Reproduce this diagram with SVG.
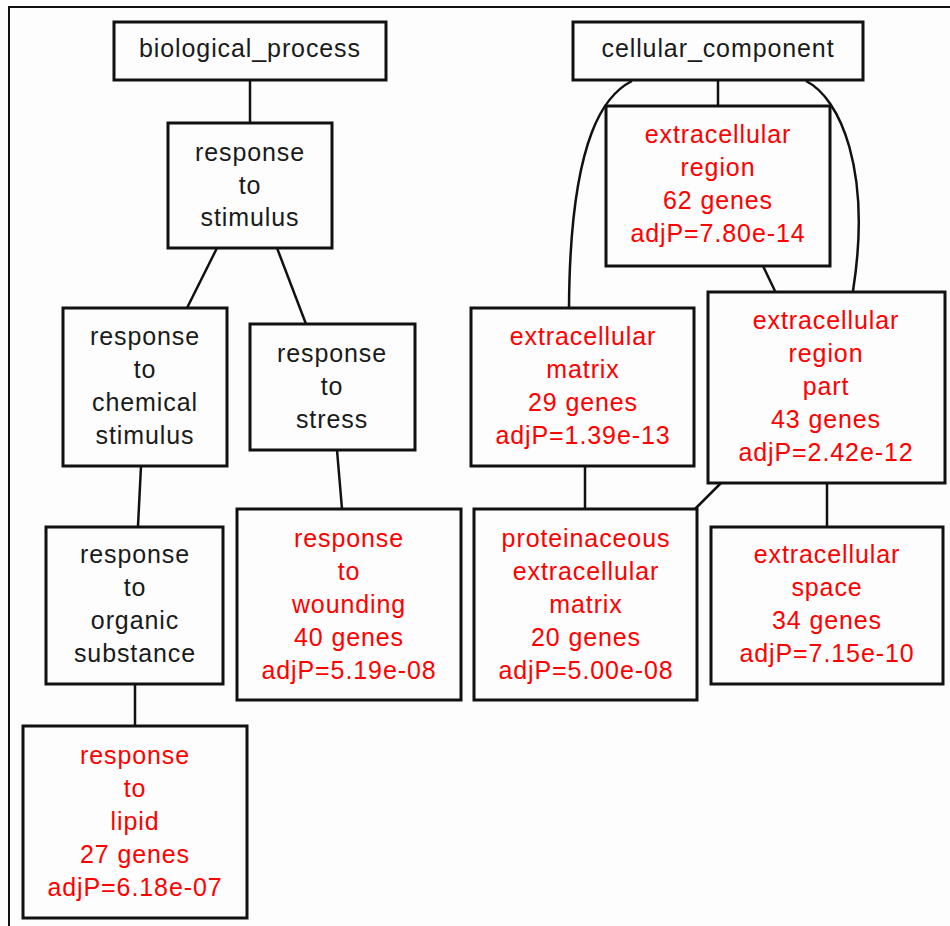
<svg xmlns="http://www.w3.org/2000/svg" width="950" height="926" viewBox="0 0 950 926">
  <style>
    .box { fill: #fcfdfc; stroke: #111; stroke-width: 3; }
    .edge { fill: none; stroke: #111; stroke-width: 2.5; }
    text { font-family: "Liberation Sans", Arial, sans-serif; font-size: 25px; text-anchor: middle; letter-spacing: 0.9px; }
    .term { fill: #1a1a1a; }
    .sig { fill: #ff0000; }
  </style>
  <rect x="0" y="0" width="950" height="926" fill="#fcfdfc"/>
  <!-- frame -->
  <path d="M9,926 V7 H950" fill="none" stroke="#111" stroke-width="2"/>

  <g id="connectors">
    <line class="edge" x1="250" y1="80" x2="250" y2="123"/>
    <line class="edge" x1="217" y1="248" x2="187" y2="308"/>
    <line class="edge" x1="277" y1="248" x2="306" y2="324"/>
    <line class="edge" x1="141" y1="466" x2="138" y2="526"/>
    <line class="edge" x1="337" y1="450" x2="342" y2="509"/>
    <line class="edge" x1="135" y1="684" x2="135" y2="726"/>
    <line class="edge" x1="718" y1="80" x2="718" y2="106"/>
    <path class="edge" d="M632,81 C608,93 570,130 569,308"/>
    <path class="edge" d="M806,81 C840,98 872,170 853,291"/>
    <line class="edge" x1="763" y1="266" x2="775" y2="291"/>
    <line class="edge" x1="585" y1="466" x2="585" y2="509"/>
    <line class="edge" x1="721" y1="483" x2="695" y2="509"/>
    <line class="edge" x1="827" y1="483" x2="827" y2="526"/>
  </g>

  <g id="biological_process">
    <rect class="box" x="114" y="22" width="272" height="58"/>
    <text class="term" x="250" y="57">biological_process</text>
  </g>
  <g id="response_to_stimulus">
    <rect class="box" x="168" y="123" width="164" height="125"/>
    <text class="term" x="250" y="161">response</text>
    <text class="term" x="250" y="194">to</text>
    <text class="term" x="250" y="226">stimulus</text>
  </g>
  <g id="response_to_chemical_stimulus">
    <rect class="box" x="63" y="308" width="164" height="158"/>
    <text class="term" x="145" y="345">response</text>
    <text class="term" x="145" y="378">to</text>
    <text class="term" x="145" y="411">chemical</text>
    <text class="term" x="145" y="444">stimulus</text>
  </g>
  <g id="response_to_stress">
    <rect class="box" x="250" y="324" width="165" height="126"/>
    <text class="term" x="332" y="362">response</text>
    <text class="term" x="332" y="395">to</text>
    <text class="term" x="332" y="428">stress</text>
  </g>
  <g id="response_to_organic_substance">
    <rect class="box" x="46" y="527" width="177" height="157"/>
    <text class="term" x="135" y="563">response</text>
    <text class="term" x="135" y="596">to</text>
    <text class="term" x="135" y="629">organic</text>
    <text class="term" x="135" y="662">substance</text>
  </g>
  <g id="response_to_wounding">
    <rect class="box" x="237" y="509" width="224" height="191"/>
    <text class="sig" x="349" y="547">response</text>
    <text class="sig" x="349" y="580">to</text>
    <text class="sig" x="349" y="613">wounding</text>
    <text class="sig" x="349" y="646">40 genes</text>
    <text class="sig" x="349" y="679">adjP=5.19e-08</text>
  </g>
  <g id="response_to_lipid">
    <rect class="box" x="23" y="726" width="224" height="192"/>
    <text class="sig" x="135" y="764">response</text>
    <text class="sig" x="135" y="797">to</text>
    <text class="sig" x="135" y="830">lipid</text>
    <text class="sig" x="135" y="863">27 genes</text>
    <text class="sig" x="135" y="896">adjP=6.18e-07</text>
  </g>

  <g id="cellular_component">
    <rect class="box" x="573" y="22" width="290" height="58"/>
    <text class="term" x="718" y="57">cellular_component</text>
  </g>
  <g id="extracellular_region">
    <rect class="box" x="606" y="106" width="224" height="160"/>
    <text class="sig" x="718" y="143">extracellular</text>
    <text class="sig" x="718" y="176">region</text>
    <text class="sig" x="718" y="209">62 genes</text>
    <text class="sig" x="718" y="242">adjP=7.80e-14</text>
  </g>
  <g id="extracellular_matrix">
    <rect class="box" x="471" y="308" width="223" height="158"/>
    <text class="sig" x="583" y="345">extracellular</text>
    <text class="sig" x="583" y="378">matrix</text>
    <text class="sig" x="583" y="411">29 genes</text>
    <text class="sig" x="583" y="444">adjP=1.39e-13</text>
  </g>
  <g id="extracellular_region_part">
    <rect class="box" x="708" y="292" width="237" height="191"/>
    <text class="sig" x="826" y="329">extracellular</text>
    <text class="sig" x="826" y="362">region</text>
    <text class="sig" x="826" y="395">part</text>
    <text class="sig" x="826" y="428">43 genes</text>
    <text class="sig" x="826" y="461">adjP=2.42e-12</text>
  </g>
  <g id="proteinaceous_extracellular_matrix">
    <rect class="box" x="474" y="509" width="223" height="191"/>
    <text class="sig" x="586" y="547">proteinaceous</text>
    <text class="sig" x="586" y="580">extracellular</text>
    <text class="sig" x="586" y="613">matrix</text>
    <text class="sig" x="586" y="646">20 genes</text>
    <text class="sig" x="586" y="679">adjP=5.00e-08</text>
  </g>
  <g id="extracellular_space">
    <rect class="box" x="711" y="527" width="232" height="157"/>
    <text class="sig" x="827" y="563">extracellular</text>
    <text class="sig" x="827" y="596">space</text>
    <text class="sig" x="827" y="629">34 genes</text>
    <text class="sig" x="827" y="662">adjP=7.15e-10</text>
  </g>
</svg>
